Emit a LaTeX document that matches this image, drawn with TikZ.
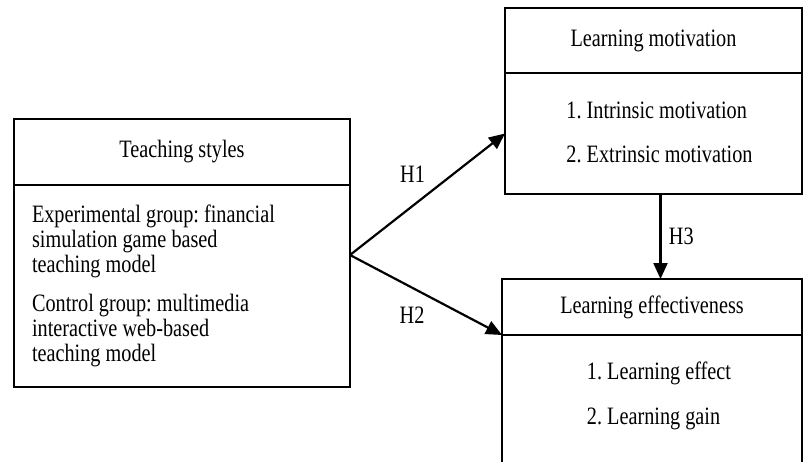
\documentclass[tikz,border=0pt]{standalone}
\usepackage{fontspec}
\setmainfont{Liberation Serif}[FakeStretch=0.81]
\usetikzlibrary{positioning, calc, arrows.meta}
\frenchspacing

\begin{document}
\begin{tikzpicture}[x=1pt, y=-1pt,
    every node/.style={font=\fontsize{25}{25}\selectfont},
    headbox/.style={draw, line width=1.8pt, outer sep=0pt, inner sep=0pt},
    listbox/.style={draw, line width=1.8pt, outer sep=0pt, inner sep=0pt, align=flush left},
    link/.style={line width=2.2pt, -{Triangle[length=16pt, width=14pt]}}]
    \useasboundingbox (0,0) rectangle (803,461);
    \clip (0,0) rectangle (803,461);

    % Teaching styles box
    \node[headbox, minimum width=336pt, minimum height=66pt] (styles) at (182,152) {Teaching styles};
    \node[listbox, below=0pt of styles, minimum width=336pt, minimum height=202pt, text width=300pt, inner xsep=18pt] (stylesbody) {Experimental group: financial\\simulation game based\\teaching model\\[14pt]Control group: multimedia\\interactive web-based\\teaching model};

    % Learning motivation box
    \node[headbox, minimum width=297pt, minimum height=65pt] (motiv) at (653.5,40.5) {Learning motivation};
    \node[listbox, below=0pt of motiv, minimum width=297pt, minimum height=121pt] (motivbody) {};
    \node[align=left, xshift=6pt, yshift=1pt] (motivlist) at (motivbody.center) {1. Intrinsic motivation\\[19pt]2. Extrinsic motivation};

    % Learning effectiveness box - runs off the bottom
    \node[headbox, minimum width=300pt, minimum height=56pt] (effect) at (652,307) {Learning effectiveness};
    \node[listbox, below=0pt of effect, minimum width=300pt, minimum height=150pt] (effectbody) {};
    \node[align=left, below=23pt of effect, xshift=7pt] (effectlist) {1. Learning effect\\[20pt]2. Learning gain};

    % Hypotheses
    \coordinate (fork) at ($(styles.south east)+(0,70)$);
    \draw[link] (fork) -- (motivbody.west) node[midway, xshift=-15pt, yshift=20pt] (h1) {H1};
    \draw[link] (fork) -- (effect.south west) node[midway, xshift=-14pt, yshift=-20pt] (h2) {H2};
    \draw[link] ([xshift=7pt]motivbody.south) -- ([xshift=7pt]motivbody.south |- effect.north) node[midway, right=4pt] (h3) {H3};
\end{tikzpicture}
\end{document}
